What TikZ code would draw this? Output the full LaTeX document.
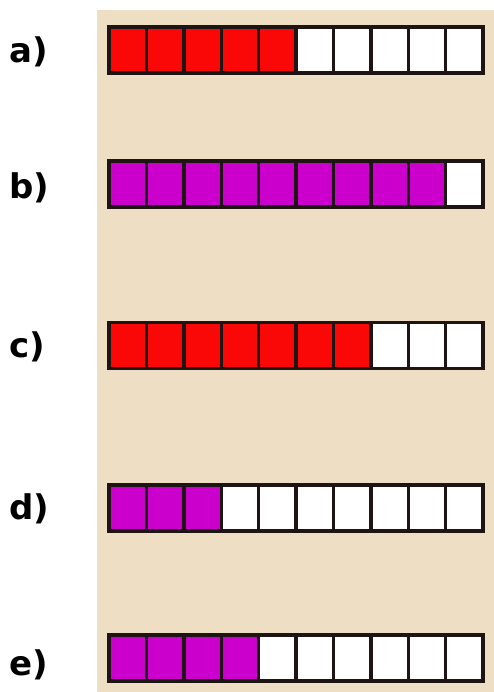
\documentclass[tikz,border=0pt]{standalone}
\usepackage{fontspec}
\setmainfont{DejaVu Sans}
\definecolor{bg}{RGB}{238,222,196}
\definecolor{fillred}{RGB}{250,8,8}
\definecolor{fillpur}{RGB}{204,0,204}
\definecolor{edge}{RGB}{30,20,20}
\begin{document}
\begin{tikzpicture}[x=1pt,y=-1pt,
 cell/.style={draw=edge, line width=3.4pt, minimum width=37.4pt, minimum height=46pt, inner sep=0pt},
 lbl/.style={font=\bfseries\fontsize{34}{34}\selectfont, anchor=base west, inner sep=0pt}]
\useasboundingbox (0,0) rectangle (494,692);
\fill[bg] (97,10) rectangle (494,692);
\foreach \r/\yc/\n/\col/\yb in {a/50/5/fillred/63, b/184/9/fillpur/199, c/345.5/7/fillred/357, d/508/3/fillpur/519, e/658/4/fillpur/675}{
  \node[lbl] (lab\r) at (9,\yb) {\r)};
  \foreach \i in {1,...,10}{
    \pgfmathsetmacro\xc{109+37.4*(\i-0.5)}
    \ifnum\i>\n \def\fc{white}\else\def\fc{\col}\fi
    \node[cell, fill=\fc] (\r\i) at (\xc,\yc) {};
  }
}
\end{tikzpicture}
\end{document}
